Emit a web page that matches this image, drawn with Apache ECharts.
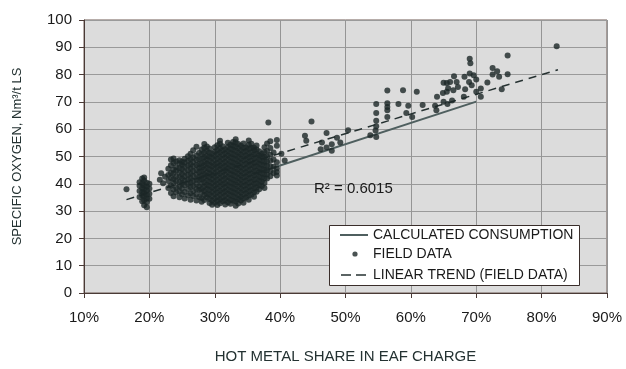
<!DOCTYPE html>
<html><head><meta charset="utf-8">
<script src="https://cdn.jsdelivr.net/npm/echarts@6/dist/echarts.min.js"></script>
<style>html,body{margin:0;padding:0;background:#fff}#c{width:626px;height:369px}</style>
</head><body><div id="c"></div>
<script>
// ---- data ----
const xTickValues = [10, 20, 30, 40, 50, 60, 70, 80, 90];   // % hot metal
const yTickValues = [0, 10, 20, 30, 40, 50, 60, 70, 80, 90, 100];

const calcX = [36, 70];
const calcY = [43.6, 70.1];

const trendX = [16.5, 82.5];
const trendY = [34.2, 81.8];
const r2Text = 'R² = 0.6015';

// field data, columns: [x, [y values]]
const fieldLow = [
  [16.5, [38.0]],
  [18.5, [35.2, 37.4, 39.3, 40.6]],
  [18.9, [33.6, 35.8, 37.0, 38.5, 40.1, 41.9]],
  [19.2, [32.1, 34.0, 35.4, 36.7, 38.0, 39.4, 41.2, 42.3]],
  [19.6, [31.4, 33.2, 34.6, 36.1, 37.6, 39.0, 40.4]],
  [20.0, [34.5, 36.4, 38.3, 40.0]],
  [21.6, [41.5]], [21.8, [43.9]], [22.1, [40.2]], [22.4, [42.6]]
];
const fieldMid = [
  [22.9, [38.5, 41.0, 43.2, 45.5]],
  [23.3, [36.6, 39.4, 42.1, 44.0, 46.8, 48.9]],
  [23.7, [35.4, 37.9, 40.3, 41.8, 43.9, 45.2, 47.6, 49.3]],
  [24.1, [36.8, 38.6, 40.9, 42.7, 44.8, 46.1, 48.2]],
  [24.6, [35.1, 37.2, 39.0, 40.6, 42.4, 44.1, 45.7, 47.4, 48.6]],
  [25.0, [36.2, 38.3, 40.2, 41.9, 43.6, 45.4, 47.0, 48.1]],
  [25.4, [34.6, 37.0, 39.5, 41.2, 42.8, 44.5, 46.3, 47.9, 49.2]],
  [25.9, [35.8, 38.1, 40.0, 41.6, 43.3, 45.0, 46.7, 48.4, 50.1]],
  [26.3, [34.2, 36.5, 38.8, 40.5, 42.0, 43.8, 45.6, 47.2, 49.0, 51.0]],
  [26.7, [35.5, 37.4, 39.3, 41.1, 42.9, 44.6, 46.4, 48.0, 49.6, 52.3]],
  [27.2, [33.9, 36.1, 38.0, 39.8, 41.5, 43.4, 45.1, 46.9, 48.7, 50.4, 53.6]]
];
const fieldDense = [
  [27.6, [35.2, 37.8, 39.1, 41.4, 42.6, 44.3, 45.9, 47.2, 49.0, 51.3]],
  [28.0, [33.4, 34.8, 36.9, 38.2, 40.1, 41.7, 43.0, 44.6, 46.1, 47.5, 49.3, 50.8, 52.6]],
  [28.4, [34.1, 36.0, 37.4, 39.0, 40.6, 42.2, 43.5, 45.2, 46.8, 48.1, 49.7, 51.5, 53.2, 54.6]],
  [28.8, [35.0, 36.3, 38.1, 39.6, 41.2, 42.9, 44.1, 45.8, 47.3, 48.9, 50.2, 52.0, 53.7]],
  [29.2, [33.0, 34.4, 36.2, 37.7, 39.3, 40.8, 42.4, 43.9, 45.3, 46.9, 48.4, 50.0, 51.4, 52.9]],
  [29.6, [32.3, 33.9, 35.5, 37.1, 38.6, 40.3, 41.8, 43.2, 44.9, 46.4, 47.8, 49.5, 51.1]],
  [30.0, [33.1, 34.6, 36.3, 37.9, 39.4, 40.9, 42.6, 44.0, 45.6, 47.1, 48.7, 50.3, 51.8, 53.4]],
  [30.4, [32.2, 33.8, 35.2, 36.8, 38.4, 39.9, 41.5, 43.1, 44.5, 46.2, 47.6, 49.2, 50.9, 52.3, 54.1]],
  [30.8, [32.9, 34.3, 36.0, 37.5, 39.1, 40.7, 42.1, 43.8, 45.3, 46.7, 48.3, 49.8, 51.5, 53.0, 54.7, 55.8]],
  [31.2, [33.6, 35.1, 36.7, 38.2, 39.8, 41.3, 42.9, 44.4, 46.0, 47.5, 49.1, 50.6, 52.2, 53.8]],
  [31.6, [32.4, 34.0, 35.6, 37.2, 38.7, 40.2, 41.9, 43.4, 45.0, 46.5, 48.0, 49.6, 51.2, 52.7]],
  [32.0, [33.2, 34.7, 36.4, 37.8, 39.5, 41.0, 42.5, 44.2, 45.7, 47.2, 48.8, 50.4, 51.9, 53.5, 55.0]],
  [32.4, [32.7, 34.2, 35.8, 37.4, 38.9, 40.5, 42.0, 43.6, 45.1, 46.6, 48.2, 49.7, 51.3, 52.8, 54.3]],
  [32.8, [33.8, 35.4, 36.9, 38.5, 40.0, 41.6, 43.2, 44.7, 46.3, 47.8, 49.4, 50.9, 52.5, 54.0, 55.3]],
  [33.2, [32.0, 33.5, 35.0, 36.6, 38.1, 39.7, 41.2, 42.8, 44.3, 45.9, 47.4, 49.0, 50.5, 52.1, 53.6, 55.2, 56.3]],
  [33.6, [32.8, 34.4, 35.9, 37.5, 39.0, 40.6, 42.1, 43.7, 45.2, 46.8, 48.3, 49.9, 51.4, 53.0, 54.6]],
  [34.0, [33.9, 35.3, 36.8, 38.4, 39.9, 41.5, 43.0, 44.6, 46.1, 47.7, 49.2, 50.8, 52.3, 53.9]],
  [34.4, [33.1, 34.6, 36.2, 37.7, 39.3, 40.8, 42.4, 43.9, 45.5, 47.0, 48.6, 50.1, 51.7, 53.2, 54.8]],
  [34.8, [35.0, 36.5, 38.0, 39.6, 41.1, 42.7, 44.2, 45.8, 47.3, 48.9, 50.4, 52.0, 53.3]],
  [35.2, [34.2, 35.7, 37.3, 38.8, 40.4, 41.9, 43.5, 45.0, 46.6, 48.1, 49.7, 51.2, 52.8, 54.3, 55.9]],
  [35.6, [36.0, 37.6, 39.1, 40.7, 42.2, 43.8, 45.3, 46.9, 48.4, 50.0, 51.5, 53.1, 54.7]],
  [36.0, [35.3, 36.9, 38.4, 40.0, 41.5, 43.1, 44.6, 46.2, 47.7, 49.3, 50.8, 52.4, 53.2]],
  [36.4, [37.1, 38.6, 40.2, 41.7, 43.3, 44.8, 46.4, 47.9, 49.5, 51.0, 52.6, 54.0]],
  [36.8, [38.0, 39.5, 41.1, 42.6, 44.2, 45.7, 47.3, 48.8, 50.4, 51.9]],
  [37.2, [39.2, 40.8, 42.3, 43.9, 45.4, 47.0, 48.5, 50.1, 51.0]],
  [37.6, [38.5, 40.3, 42.0, 43.5, 45.1, 46.7, 48.2, 49.8, 51.6, 53.4]],
  [38.0, [41.9, 43.4, 45.0, 46.6, 48.1, 49.9, 52.0, 54.8]],
  [38.5, [42.8, 44.6, 46.3, 48.4, 50.6, 53.1, 55.6]],
  [39.0, [44.0, 46.2, 48.9, 51.5]],
  [39.5, [43.0, 44.3, 45.6, 47.9, 53.9, 56.0]]
];
const fieldHighX = [38.2, 40.7, 40.2, 43.8, 44.0, 44.8, 46.2, 46.4, 47.1, 47.1, 47.9, 47.9, 48.7, 49.2, 50.4,
  53.8, 54.7, 54.6, 54.7, 54.7, 54.7, 54.7, 56.4, 56.4, 56.4, 56.4, 56.4,
  58.1, 58.8, 59.3, 59.6, 60.2, 60.9, 61.8, 63.7, 63.9, 64.0, 64.9, 65.0, 65.0, 65.5, 65.5, 65.6, 65.7,
  66.0, 66.3, 66.5, 66.6, 67.0, 67.2, 68.1, 68.2, 68.3, 68.9, 69.0, 69.0, 69.1, 69.3, 69.6, 70.0, 70.0,
  70.7, 70.7, 71.7, 72.5, 72.5, 73.2, 73.5, 73.9, 74.8, 74.8, 82.3];
const fieldHighY = [62.5, 48.5, 51.0, 57.6, 55.8, 62.8, 52.7, 55.1, 58.6, 53.3, 52.1, 54.5, 56.9, 55.1, 59.6,
  57.8, 57.1, 59.5, 61.1, 63.1, 65.9, 69.2, 74.2, 69.5, 68.1, 66.9, 64.5,
  69.2, 74.3, 65.9, 68.6, 64.5, 73.7, 68.9, 68.6, 66.9, 71.9, 73.3, 70.1, 77.0, 76.9, 73.7, 69.2, 75.0,
  77.3, 70.5, 74.3, 79.4, 77.3, 75.5, 71.9, 79.2, 74.6, 77.3, 80.4, 85.8, 84.2, 76.1, 79.8, 78.2, 73.7,
  74.9, 71.9, 77.1, 82.4, 80.0, 81.2, 79.2, 74.6, 87.0, 80.1, 90.4];

// ---- build series data ----
function fromColumns(cols) {
  const out = [];
  cols.forEach(c => c[1].forEach(y => out.push([c[0], y])));
  return out;
}
const fieldData = fromColumns(fieldLow).concat(fromColumns(fieldMid), fromColumns(fieldDense),
  fieldHighX.map((x, i) => [x, fieldHighY[i]]));

const FONT = '"Liberation Sans", Arial, sans-serif';
const chart = echarts.init(document.getElementById('c'), null, {renderer: 'canvas'});
const legendText = {fontFamily: FONT, fontSize: 14, color: '#1a1a1a'};
// legend icons: 28x14 boxes (moveTo points fix the bounding box)
const iconSolid = 'path://M0,0M28,14M0,6h28v2h-28z';
const iconDash = 'path://M0,0M28,14M1,6.2h10v1.6h-10zM16,6.2h10v1.6h-10z';
const iconDot = 'path://M0,0M28,14M17.6,7A2.6,2.6,0,1,0,12.4,7A2.6,2.6,0,1,0,17.6,7z';
const legendBase = {left: 340, itemWidth: 28, itemHeight: 14, padding: 0, itemGap: 0,
                    textStyle: legendText, selectedMode: false};
chart.setOption({
  animation: false,
  backgroundColor: '#ffffff',
  grid: {left: 84, right: 19, top: 20, bottom: 74, show: true, backgroundColor: '#dcdcdc',
         borderColor: '#6e5a54', borderWidth: 1},
  xAxis: {
    type: 'value', min: xTickValues[0], max: xTickValues[xTickValues.length - 1], interval: 10,
    name: 'HOT METAL SHARE IN EAF CHARGE', nameLocation: 'middle', nameGap: 56,
    nameTextStyle: {fontFamily: FONT, fontSize: 15, color: '#243232'},
    axisLine: {show: true, lineStyle: {color: '#4a3a36', width: 1}},
    axisTick: {show: true, length: 5, lineStyle: {color: '#4a3a36'}},
    axisLabel: {formatter: '{value}%', fontFamily: FONT, fontSize: 15, color: '#1a1a1a', margin: 17},
    splitLine: {show: true, lineStyle: {color: '#959595', width: 1}}
  },
  yAxis: {
    type: 'value', min: yTickValues[0], max: yTickValues[yTickValues.length - 1], interval: 10,
    name: 'SPECIFIC OXYGEN, Nm³/t LS', nameLocation: 'middle', nameGap: 60, nameRotate: 90,
    nameTextStyle: {fontFamily: FONT, fontSize: 13, color: '#243232'},
    axisLine: {show: true, lineStyle: {color: '#4a3a36', width: 1}},
    axisTick: {show: true, length: 5, lineStyle: {color: '#4a3a36'}},
    axisLabel: {fontFamily: FONT, fontSize: 15, color: '#1a1a1a', margin: 12},
    splitLine: {show: true, lineStyle: {color: '#9a9a9a', width: 1}}
  },
  legend: [
    Object.assign({top: 228, data: [{name: 'CALCULATED CONSUMPTION', icon: iconSolid}]}, legendBase),
    Object.assign({top: 247, data: [{name: 'FIELD DATA', icon: iconDot}]}, legendBase),
    Object.assign({top: 268, data: [{name: 'LINEAR TREND (FIELD DATA)', icon: iconDash}]}, legendBase)
  ],
  graphic: [
    {type: 'rect', left: 329, top: 225, z: 3, shape: {width: 250, height: 60},
     style: {fill: '#ffffff', stroke: '#3a2e2b', lineWidth: 1}},
    {type: 'text', left: 314, top: 181, z: 5,
     style: {text: r2Text, font: '15px ' + FONT, fill: '#1a1a1a'}}
  ],
  series: [
    {name: 'CALCULATED CONSUMPTION', type: 'line', symbol: 'none', z: 2,
     data: calcX.map((x, i) => [x, calcY[i]]),
     lineStyle: {color: '#4f5f5f', width: 2}, itemStyle: {color: '#4f5f5f'}},
    {name: 'LINEAR TREND (FIELD DATA)', type: 'line', symbol: 'none', z: 2,
     data: trendX.map((x, i) => [x, trendY[i]]),
     lineStyle: {color: '#263232', width: 1.5, type: [8, 6]}, itemStyle: {color: '#263232'}},
    {name: 'FIELD DATA', type: 'scatter', symbol: 'circle', symbolSize: 6, z: 3,
     data: fieldData, itemStyle: {color: '#1c2727'}}
  ]
});
</script>
</body></html>
